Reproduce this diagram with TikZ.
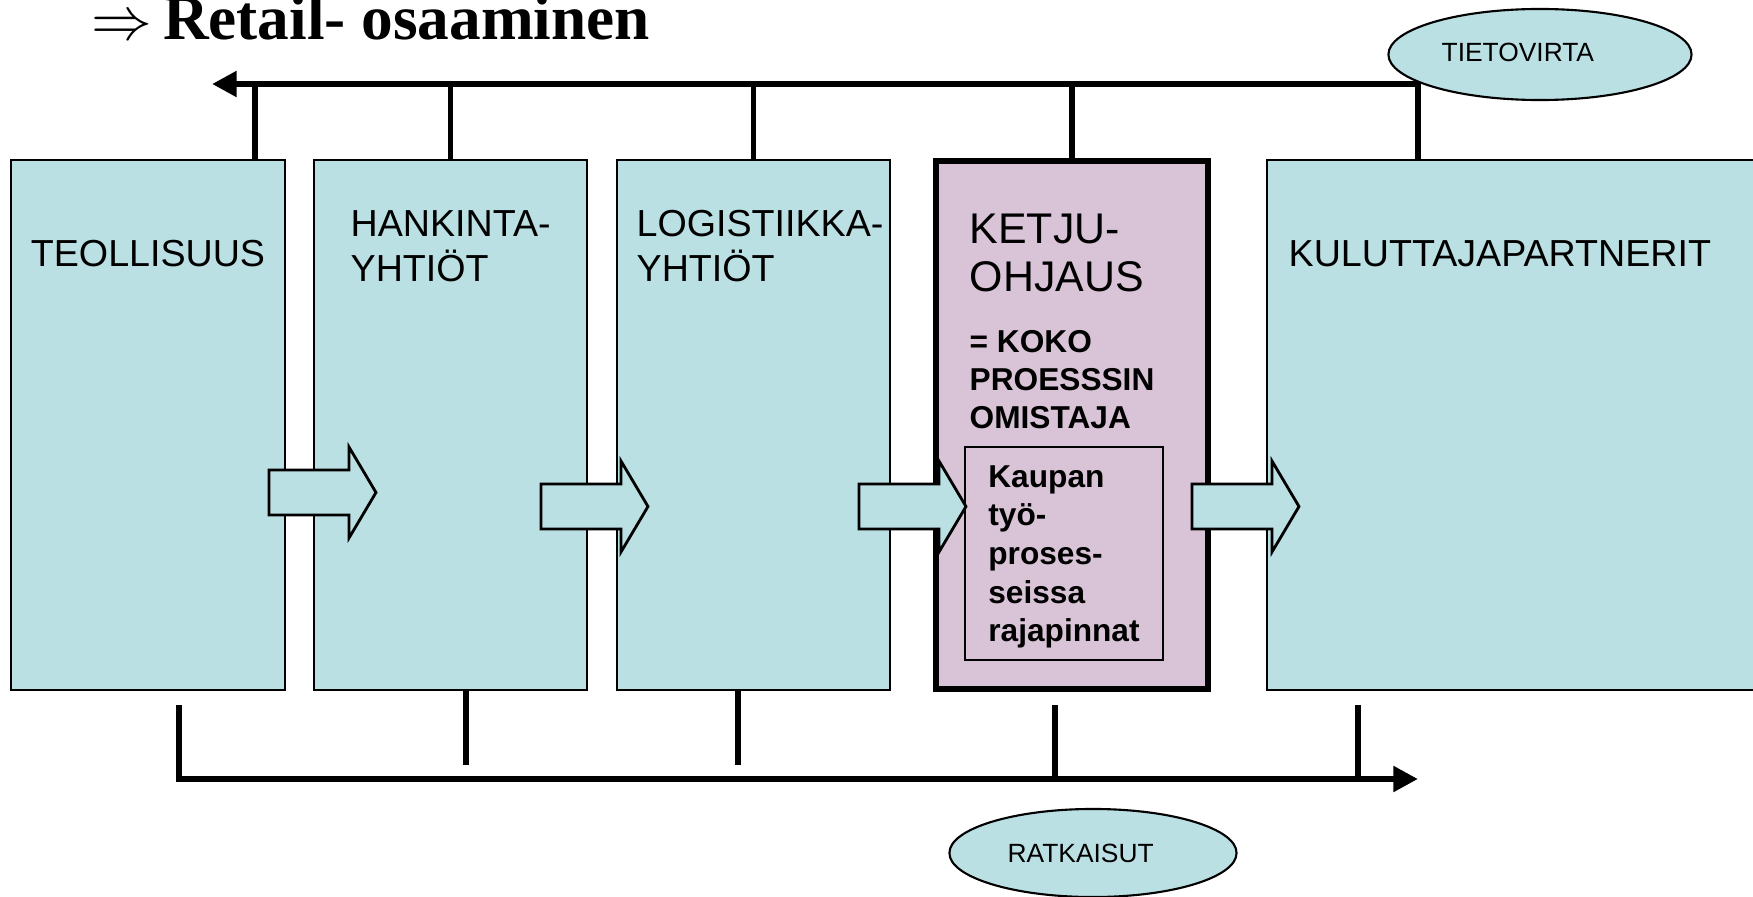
\documentclass[tikz,border=0pt]{standalone}
\usepackage{fontspec}
\setmainfont{Liberation Sans}
\newfontfamily\titlefont{Liberation Serif}
\usetikzlibrary{arrows.meta,shapes.geometric}

\definecolor{boxblue}{RGB}{187,224,227}
\definecolor{ketjupink}{RGB}{217,196,215}

\begin{document}
\begin{tikzpicture}[x=0.01cm, y=-0.01cm,
  blbox/.style={draw, line width=0.6pt, fill=boxblue, minimum width=2.73cm, minimum height=5.3cm, inner sep=0},
  ketjubox/.style={draw, line width=1.6pt, fill=ketjupink, minimum width=2.72cm, minimum height=5.28cm, inner sep=0},
  boxlabel/.style={font=\fontsize{10.7}{12.7}\selectfont, align=left, inner sep=0, anchor=west},
  blockarrow/.style={draw, line width=0.8pt, fill=boxblue, line join=miter},
  stub/.style={line width=1.5pt},
  mainflow/.style={line width=1.8pt, -{Triangle[length=7pt,width=7pt]}},
  flowtag/.style={ellipse, draw, line width=0.6pt, fill=boxblue, inner sep=0, font=\fontsize{7.5}{9}\selectfont}]

\useasboundingbox (0,0) rectangle (1753,897);

% -------- title -----------
\node [anchor=base west, inner sep=0, font=\titlefont\bfseries\fontsize{18}{20}\selectfont] (title) at (91,40) {$\Rightarrow$\,Retail- osaaminen};

% -------- boxes -----------
\node [blbox] (teol) at (148,425) {};
\node [blbox] (hank) at (450.5,425) {};
\node [blbox] (logi) at (753.5,425) {};
\node [ketjubox] (ketju) at (1072,425) {};
\node [blbox, minimum width=5cm] (kulu) at (1517,425) {};

\node [draw, line width=0.6pt, fill=ketjupink, minimum width=1.98cm, minimum height=2.13cm, align=left, text depth=0pt,
       font=\fontsize{9}{11}\selectfont\bfseries] (raja) at (1064,553.5) {Kaupan\\työ-\\proses-\\seissa\\rajapinnat};

% -------- block arrows -----------
\draw [blockarrow] (269,470) -- ++(80,0) -- ++(0,-23) -- ++(27,45.5) -- ++(-27,45.5) -- ++(0,-23) -- ++(-80,0) -- cycle;
\draw [blockarrow] (541,484) -- ++(80,0) -- ++(0,-23) -- ++(27,45.5) -- ++(-27,45.5) -- ++(0,-23) -- ++(-80,0) -- cycle;
\draw [blockarrow] (859,484) -- ++(80,0) -- ++(0,-23) -- ++(27,45.5) -- ++(-27,45.5) -- ++(0,-23) -- ++(-80,0) -- cycle;
\draw [blockarrow] (1192,484) -- ++(80,0) -- ++(0,-23) -- ++(27,45.5) -- ++(-27,45.5) -- ++(0,-23) -- ++(-80,0) -- cycle;

% -------- tietovirta -----------
\coordinate (tvend) at (212,84);
\draw [mainflow] (kulu.north) ++(-99,0) |- (tvend);
\draw [stub] (teol.north) ++(107,0) -- ++(0,-76);
\draw [stub] (hank.north) -- (hank.north |- tvend);
\draw [stub] (logi.north) -- (logi.north |- tvend);
\draw [stub] (ketju.north) -- (ketju.north |- tvend);

% -------- ratkaisut -----------
\coordinate (rtend) at (1418,779);
\draw [mainflow] (teol.south) ++(31,14) |- (rtend);
\draw [stub] (hank.south) ++(15.5,0) -- ++(0,74);
\draw [stub] (logi.south) ++(-15.5,0) -- ++(0,74);
\draw [stub] (ketju.south) ++(-17,13) -- ++(0,75);
\draw [stub] (kulu.south) ++(-159,14) -- ++(0,75);

\node [flowtag, minimum width=3.03cm, minimum height=0.91cm] (tieto) at (1540,54.5) {\raisebox{1pt}{TIETOVIRTA}\kern12.6pt};
\node [flowtag, minimum width=2.87cm, minimum height=0.88cm] (ratk) at (1093,853) {RATKAISUT\kern7pt};

% -------- labels -----------
\node [boxlabel, anchor=center] (teoltxt) at (148,254) {TEOLLISUUS};
\node [boxlabel] (hanktxt) at (350,246) {HANKINTA-\\YHTIÖT};
\node [boxlabel] (logitxt) at (636,246) {LOGISTIIKKA-\\YHTIÖT};
\node [boxlabel, font=\fontsize{12.2}{13.7}\selectfont] (ketjutxt) at (969,253) {KETJU-\\OHJAUS};
\node [boxlabel, font=\fontsize{9}{10.8}\selectfont\bfseries] (kokotxt) at (969,380) {= KOKO\\PROESSSIN\\OMISTAJA};
\node [boxlabel] (kulutxt) at (1288,254) {KULUTTAJAPARTNERIT};

\end{tikzpicture}
\end{document}
